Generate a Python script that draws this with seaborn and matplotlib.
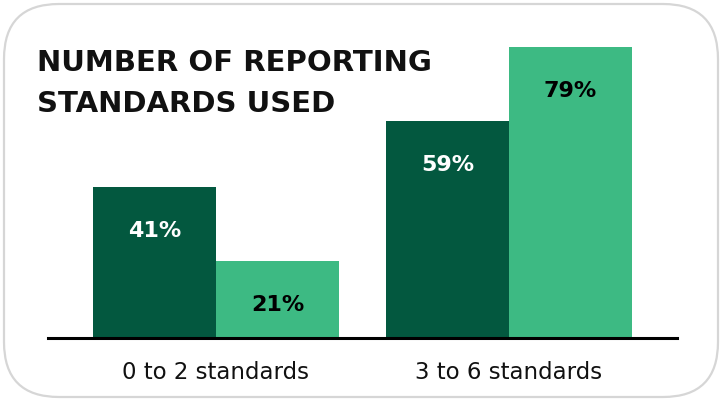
import matplotlib
matplotlib.use("Agg")
import matplotlib.pyplot as plt
import seaborn as sns
import pandas as pd
from matplotlib.patches import FancyBboxPatch
from matplotlib.transforms import IdentityTransform

categories = ["0 to 2 standards", "3 to 6 standards"]
series_names = ["Series A", "Series B"]
series_a = [41, 59]
series_b = [21, 79]
colors = ["#03583F", "#3DBA83"]
label_colors = ["white", "black"]

df = pd.DataFrame({
    "category": categories * 2,
    "series": [series_names[0]] * 2 + [series_names[1]] * 2,
    "value": series_a + series_b,
})

sns.set_theme(style="white")
plt.rcParams['font.family'] = ['DejaVu Sans']

fig = plt.figure(figsize=(7.23, 4.02), dpi=100)
W, H = 723, 402
ax = fig.add_axes([48 / W, (H - 339) / H, (677 - 48) / W, (339 - 43) / H])

sns.barplot(data=df, x="category", y="value", hue="series", palette=colors,
            width=0.84, dodge=True, saturation=1, ax=ax, legend=False)
for p in ax.patches:
    p.set_edgecolor("none")

ax.set_ylim(0, 80.3)
ax.set_xlim(-0.573, 1.573)
ax.set_xlabel("")
ax.set_ylabel("")
ax.set_yticks([])
for s in ["left", "right", "top"]:
    ax.spines[s].set_visible(False)
ax.spines["bottom"].set_color("black")
ax.spines["bottom"].set_linewidth(2.2)
ax.tick_params(axis="x", length=0, pad=16, labelsize=16.5, colors="#111111")

for ci, cont in enumerate(ax.containers):
    vals = [series_a, series_b][ci]
    for bar, v in zip(cont, vals):
        x = bar.get_x() + bar.get_width() / 2
        ax.text(x, v - 11.7, f"{v}%", ha="center", va="center", fontsize=16,
                fontweight="bold", color=label_colors[ci])

fig.text(37 / W, 1 - 63 / H, "NUMBER OF REPORTING", fontsize=21, fontweight="bold",
         color="#111111", ha="left", va="center")
fig.text(37 / W, 1 - 104.5 / H, "STANDARDS USED", fontsize=21, fontweight="bold",
         color="#111111", ha="left", va="center")

border = FancyBboxPatch((4, 4), 714, 393, boxstyle="round,pad=0,rounding_size=55",
                        transform=IdentityTransform(), facecolor="none",
                        edgecolor="#D6D6D6", linewidth=1.6)
fig.patches.append(border)

fig.savefig("out.png", dpi=100, facecolor="white")
